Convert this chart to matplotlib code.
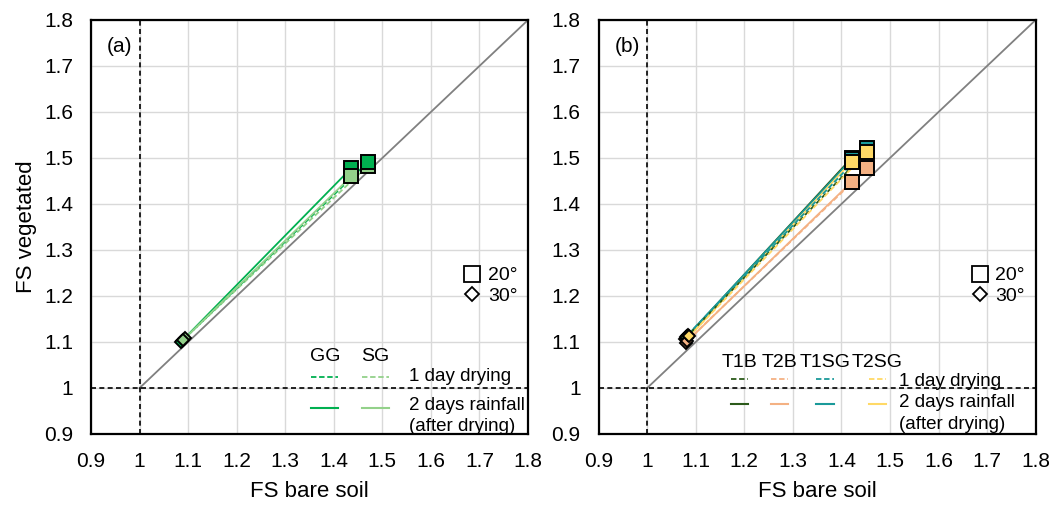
import matplotlib.pyplot as plt
from matplotlib.lines import Line2D

plt.rcParams['font.family'] = ['Liberation Sans', 'DejaVu Sans']

# panel (a): FS values, [30 deg, 20 deg] for each series
a_names = ['GG', 'SG']
a_colors = ['#00b050', '#93d18a']
a_dry_x = [[1.087, 1.470], [1.093, 1.470]]
a_dry_y = [[1.102, 1.491], [1.108, 1.483]]
a_rain_x = [[1.085, 1.436], [1.090, 1.436]]
a_rain_y = [[1.100, 1.478], [1.105, 1.460]]

# panel (b)
b_names = ['T1B', 'T2B', 'T1SG', 'T2SG']
b_colors = ['#2b5a1a', '#f4b183', '#1a9a9a', '#ffd966']
b_dry_x = [[1.080, 1.453], [1.082, 1.453], [1.084, 1.453], [1.086, 1.453]]
b_dry_y = [[1.110, 1.515], [1.102, 1.478], [1.116, 1.522], [1.112, 1.512]]
b_rain_x = [[1.077, 1.421], [1.079, 1.421], [1.081, 1.421], [1.083, 1.421]]
b_rain_y = [[1.106, 1.500], [1.098, 1.448], [1.112, 1.497], [1.108, 1.492]]

ticks = [0.9, 1.0, 1.1, 1.2, 1.3, 1.4, 1.5, 1.6, 1.7, 1.8]
ticklabels = ['0.9', '1', '1.1', '1.2', '1.3', '1.4', '1.5', '1.6', '1.7', '1.8']

fig = plt.figure(figsize=(10.56, 5.05), dpi=100)
axa = fig.add_axes([0.0862, 0.1406, 0.4138, 0.8198])
axb = fig.add_axes([0.5669, 0.1406, 0.4138, 0.8198])


def base(ax, tag):
    ax.set_xlim(0.9, 1.8)
    ax.set_ylim(0.9, 1.8)
    ax.set_xticks(ticks)
    ax.set_yticks(ticks)
    ax.set_xticklabels(ticklabels)
    ax.set_yticklabels(ticklabels)
    ax.tick_params(length=0, labelsize=15, pad=13)
    ax.grid(color='#d9d9d9', lw=1.0)
    ax.set_axisbelow(True)
    for s in ax.spines.values():
        s.set_linewidth(1.6)
    ax.plot([1, 1.8], [1, 1.8], color='#808080', lw=1.3, zorder=2)
    ax.axvline(1, color='black', lw=1.2, ls=(0, (3, 2)), zorder=2)
    ax.axhline(1, color='black', lw=1.2, ls=(0, (3, 2)), zorder=2)
    ax.set_xlabel('FS bare soil', fontsize=16, labelpad=7)
    ax.text(0.066, 0.935, tag, transform=ax.transAxes, fontsize=15,
            ha='center', va='center')
    h = [Line2D([], [], marker='s', ls='none', ms=12, mfc='white', mec='black', mew=1.3),
         Line2D([], [], marker='D', ls='none', ms=7.5, mfc='white', mec='black', mew=1.3)]
    ax.legend(h, ['20°', '30°'], loc='center', bbox_to_anchor=(0.915, 0.358),
              frameon=False, fontsize=14, handlelength=0.8, handletextpad=0.4,
              labelspacing=0.15, borderpad=0)


def series(ax, xs, ys, col, ls):
    ax.plot(xs, ys, color=col, lw=1.3, ls=ls, zorder=3)
    ax.plot(xs[1], ys[1], marker='s', ms=10, mfc=col, mec='black', mew=1.4, zorder=4)
    ax.plot(xs[0], ys[0], marker='D', ms=6.5, mfc=col, mec='black', mew=1.4, zorder=4)


base(axa, '(a)')
base(axb, '(b)')
axa.set_ylabel('FS vegetated', fontsize=16, labelpad=5)

# panel (a)
series(axa, a_dry_x[1], a_dry_y[1], a_colors[1], (0, (3, 1.5)))
series(axa, a_dry_x[0], a_dry_y[0], a_colors[0], (0, (3, 1.5)))
series(axa, a_rain_x[0], a_rain_y[0], a_colors[0], '-')
series(axa, a_rain_x[1], a_rain_y[1], a_colors[1], '-')

# panel (b)
for i in range(4):
    series(axb, b_rain_x[i], b_rain_y[i], b_colors[i], '-')
for i in range(4):
    series(axb, b_dry_x[i], b_dry_y[i], b_colors[i], (0, (3, 1.5)))

# series legends
tr = axa.transAxes
for name, col, xc in zip(a_names, a_colors, [0.535, 0.650]):
    axa.text(xc, 0.186, name, transform=tr, fontsize=14, ha='center', va='center')
    axa.plot([xc - 0.031, xc + 0.031], [0.138, 0.138], transform=tr, color=col,
             lw=1.3, ls=(0, (3, 1.5)))
    axa.plot([xc - 0.031, xc + 0.031], [0.064, 0.064], transform=tr, color=col, lw=1.5)
axa.text(0.727, 0.140, '1 day drying', transform=tr, fontsize=13.5, va='center')
axa.text(0.727, 0.068, '2 days rainfall', transform=tr, fontsize=13.5, va='center')
axa.text(0.727, 0.018, '(after drying)', transform=tr, fontsize=13.5, va='center')

tr = axb.transAxes
for name, col, xc in zip(b_names, b_colors, [0.322, 0.414, 0.518, 0.638]):
    axb.text(xc, 0.173, name, transform=tr, fontsize=14, ha='center', va='center')
    axb.plot([xc - 0.02, xc + 0.02], [0.133, 0.133], transform=tr, color=col,
             lw=1.3, ls=(0, (3, 1.5)))
    axb.plot([xc - 0.02, xc + 0.02], [0.073, 0.073], transform=tr, color=col, lw=1.5)
axb.text(0.688, 0.128, '1 day drying', transform=tr, fontsize=13.5, va='center')
axb.text(0.688, 0.076, '2 days rainfall', transform=tr, fontsize=13.5, va='center')
axb.text(0.688, 0.024, '(after drying)', transform=tr, fontsize=13.5, va='center')

fig.savefig('out.png', dpi=100)
